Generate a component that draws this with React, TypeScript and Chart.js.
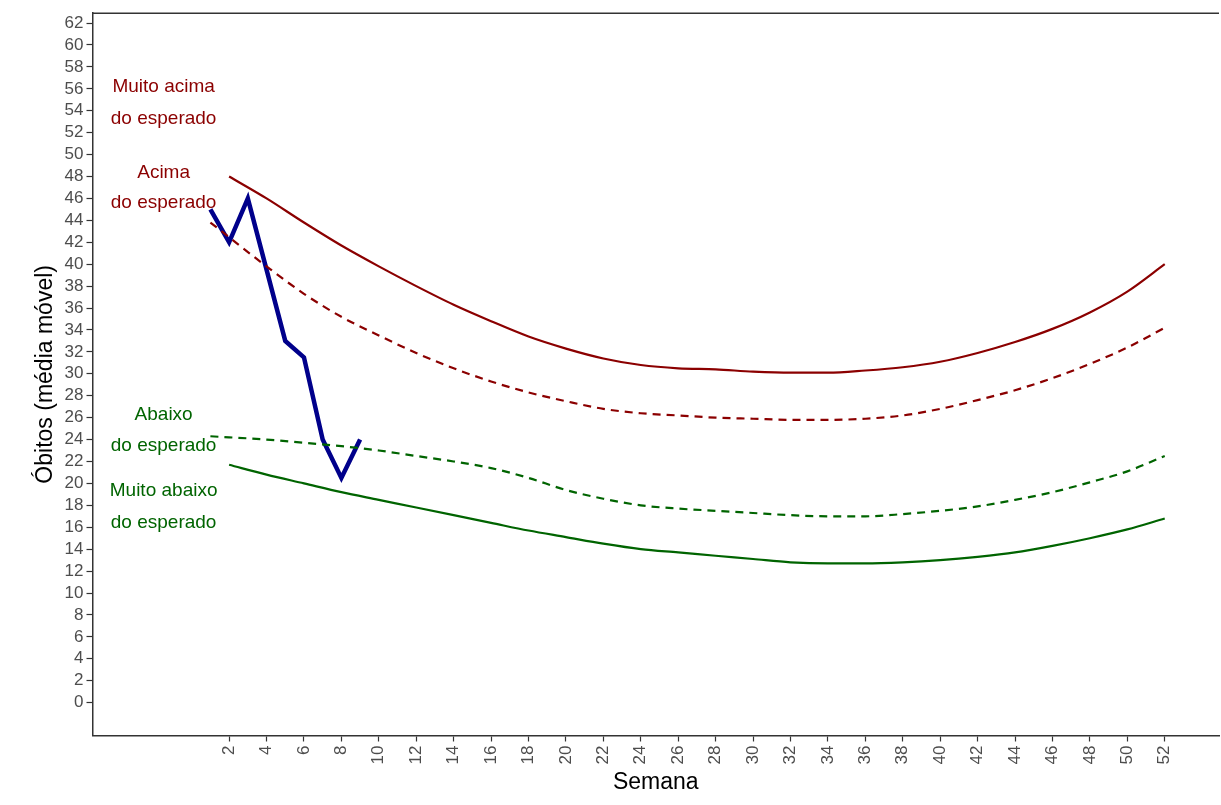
import React, { useEffect, useRef } from 'react';
import Chart from 'chart.js/auto';

const obsWeeks = [1, 2, 3, 4, 5, 6, 7, 8, 9];
const obsValues = [45, 42, 46, 39.5, 33, 31.5, 24, 20.5, 24];

const bandWeeks = [2, 4, 6, 8, 10, 12, 14, 16, 18, 20, 22, 24, 26, 28, 30, 32, 34, 36, 38, 40, 42, 44, 46, 48, 50, 52];
const upper = [48, 46, 43.8, 41.7, 39.8, 38, 36.3, 34.8, 33.4, 32.3, 31.4, 30.8, 30.5, 30.4, 30.2, 30.1, 30.1, 30.3, 30.6, 31.1, 31.9, 32.9, 34.1, 35.6, 37.5, 40];
const dashWeeks = [1, 4, 6, 8, 10, 12, 14, 16, 18, 20, 22, 24, 26, 28, 30, 32, 34, 36, 38, 40, 42, 44, 46, 48, 50, 52];
const upperDash = [43.8, 39.8, 37.3, 35.2, 33.5, 31.9, 30.5, 29.3, 28.3, 27.5, 26.8, 26.4, 26.2, 26, 25.9, 25.8, 25.8, 25.9, 26.2, 26.8, 27.6, 28.5, 29.6, 30.9, 32.4, 34.2];
const lowerDash = [24.3, 24, 23.7, 23.4, 23, 22.5, 22, 21.4, 20.5, 19.4, 18.6, 18, 17.7, 17.5, 17.3, 17.1, 17, 17, 17.2, 17.5, 17.9, 18.5, 19.2, 20.1, 21.1, 22.5];
const lower = [21.7, 20.8, 20, 19.2, 18.5, 17.8, 17.1, 16.4, 15.7, 15.1, 14.5, 14, 13.7, 13.4, 13.1, 12.8, 12.7, 12.7, 12.8, 13, 13.3, 13.7, 14.3, 15, 15.8, 16.8];

const xTicks = [2, 4, 6, 8, 10, 12, 14, 16, 18, 20, 22, 24, 26, 28, 30, 32, 34, 36, 38, 40, 42, 44, 46, 48, 50, 52];
const yTicks = Array.from({ length: 32 }, (_, i) => i * 2);

const zoneLabels = [
  { lines: ['Muito acima', 'do esperado'], y: [56.2, 53.3], color: '#8b0000' },
  { lines: ['Acima', 'do esperado'], y: [48.3, 45.6], color: '#8b0000' },
  { lines: ['Abaixo', 'do esperado'], y: [26.3, 23.4], color: '#006400' },
  { lines: ['Muito abaixo', 'do esperado'], y: [19.3, 16.4], color: '#006400' },
];

const pts = (xs: number[], ys: number[]) => xs.map((x, i) => ({ x, y: ys[i] }));
const FONT = '"Liberation Sans", Arial, sans-serif';

const labelPlugin = {
  id: 'zoneLabels',
  afterDatasetsDraw(chart: any) {
    const { ctx, scales } = chart;
    ctx.save();
    ctx.font = '19px ' + FONT;
    ctx.textAlign = 'center';
    ctx.textBaseline = 'middle';
    zoneLabels.forEach((z) => {
      ctx.fillStyle = z.color;
      z.lines.forEach((t, i) => ctx.fillText(t, scales.x.getPixelForValue(-1.5), scales.y.getPixelForValue(z.y[i])));
    });
    ctx.restore();
  },
};

const App = () => {
  const chartRef = useRef<HTMLCanvasElement>(null);

  useEffect(() => {
    document.body.style.margin = '0';
    if (!chartRef.current) return;
    const line = (data: any, color: string, width: number, dash: number[] = []) => ({
      data, borderColor: color, borderWidth: width, borderDash: dash, pointRadius: 0,
      cubicInterpolationMode: 'monotone', fill: false,
    });
    const myChart = new Chart(chartRef.current, {
      type: 'line',
      data: {
        datasets: [
          line(pts(bandWeeks, upper), '#8b0000', 2.2),
          line(pts(dashWeeks, upperDash), '#8b0000', 2.2, [8, 6]),
          line(pts(dashWeeks, lowerDash), '#006400', 2.2, [8, 6]),
          line(pts(bandWeeks, lower), '#006400', 2.2),
          { ...line(pts(obsWeeks, obsValues), '#00008b', 4.5), cubicInterpolationMode: 'default', tension: 0 },
        ],
      },
      options: {
        animation: false,
        responsive: false,
        layout: { padding: { top: 11, right: 2, left: 30, bottom: 9 } },
        plugins: { legend: { display: false }, tooltip: { enabled: false } },
        scales: {
          x: {
            type: 'linear', min: -5.3, max: 54.9,
            afterBuildTicks: (s: any) => { s.ticks = xTicks.map((v) => ({ value: v })); },
            grid: { display: true, drawOnChartArea: false, tickLength: 6, tickColor: '#333', tickWidth: 1.2 },
            border: { color: '#333', width: 1.5 },
            ticks: { color: '#4d4d4d', font: { size: 17, family: FONT }, maxRotation: 90, minRotation: 90, autoSkip: false, padding: 4 },
            title: { display: true, text: 'Semana', color: '#000', font: { size: 23, family: FONT }, padding: 0 },
          },
          y: {
            min: -3, max: 62.9,
            afterBuildTicks: (s: any) => { s.ticks = yTicks.map((v) => ({ value: v })); },
            grid: { display: true, drawOnChartArea: false, tickLength: 6, tickColor: '#333', tickWidth: 1.2 },
            border: { color: '#333', width: 1.5 },
            ticks: { color: '#4d4d4d', font: { size: 17, family: FONT }, autoSkip: false, padding: 3 },
            title: { display: true, text: 'Óbitos (média móvel)', color: '#000', font: { size: 23, family: FONT }, padding: 2 },
          },
        },
      },
      plugins: [labelPlugin, {
        id: 'frame',
        afterDraw(chart: any) {
          const { ctx, chartArea: a } = chart;
          ctx.save();
          ctx.strokeStyle = '#333';
          ctx.lineWidth = 1.5;
          ctx.beginPath();
          ctx.moveTo(a.left, a.top);
          ctx.lineTo(a.right, a.top);
          ctx.stroke();
          ctx.restore();
        },
      }],
    });
    return () => { myChart.destroy(); };
  }, []);

  return (
    <div style={{ background: '#fff' }}>
      <canvas ref={chartRef} width={1221} height={805} style={{ display: 'block' }} />
    </div>
  );
};

export default App;
